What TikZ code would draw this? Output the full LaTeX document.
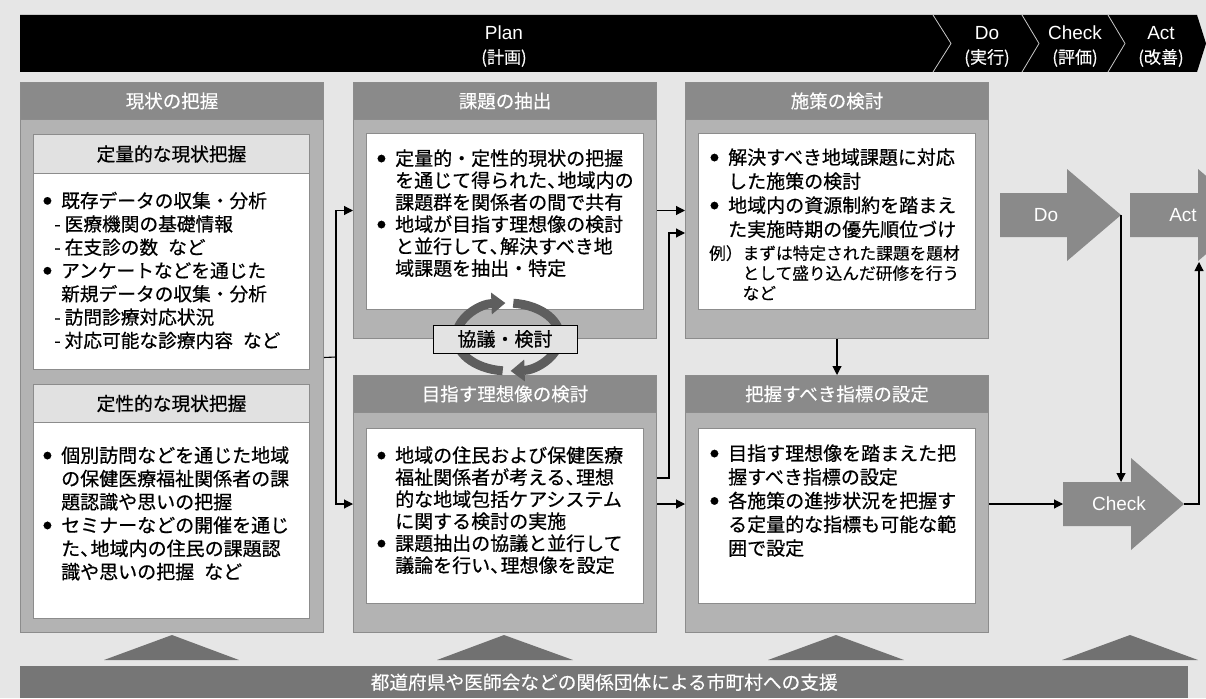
\documentclass[tikz,border=0pt]{standalone}
\usepackage{fontspec}
\setmainfont{Noto Sans CJK JP}
\newfontfamily\jpb{Noto Sans CJK JP}[FakeBold=0.6]
\newfontfamily\jph{Noto Sans CJK JP}[FakeBold=0.25]
\newfontfamily\lat{Liberation Sans}
\usetikzlibrary{arrows.meta}
\definecolor{bg}{HTML}{E6E6E6}
\definecolor{outergray}{HTML}{B3B3B3}
\definecolor{hdrgray}{HTML}{8A8A8A}
\definecolor{subgray}{HTML}{E1E1E1}
\definecolor{bordergray}{HTML}{8C8C8C}
\definecolor{bargray}{HTML}{767676}
\definecolor{trigray}{HTML}{717171}
\definecolor{pdcagray}{HTML}{8A8A8A}
\definecolor{ringgray}{HTML}{5E5E5E}
\definecolor{lablgray}{HTML}{E3E3E3}
\definecolor{sepgray}{HTML}{C8C8C8}
\newcommand{\bul}{\makebox[18pt][l]{\raisebox{3.6pt}{\fontsize{8.5}{9}\selectfont ●}}}
\newcommand{\ind}{\hspace*{18pt}}
\newcommand{\dsh}{\hspace*{11pt}-\hspace{4pt}}
\newcommand{\tc}{\makebox[0.55em][l]{、}}
\newcommand{\fr}{\rule{0pt}{17pt}}
\newcommand{\pj}[1]{\makebox[10pt][r]{(}#1\makebox[10pt][l]{)}}
\begin{document}
\begin{tikzpicture}[x=1pt,y=-1pt,
  box/.style={draw=bordergray, line width=1pt, inner sep=0pt, anchor=north west},
  outerbox/.style={box, fill=outergray},
  hdrbox/.style={box, fill=hdrgray, text=white, font=\jph\fontsize{18.5}{22}\selectfont},
  subhdr/.style={box, fill=subgray, font=\jpb\fontsize{18.7}{22}\selectfont},
  bodybox/.style={box, fill=white},
  txt/.style={anchor=north west, inner sep=0pt, align=left},
  conn/.style={line width=1.1pt, -{Triangle[length=9pt,width=9pt]}},
  plainline/.style={line width=1.1pt},
  pdca/.style={fill=pdcagray},
  pdcatxt/.style={inner sep=0pt, text=white, font=\lat\fontsize{19}{22}\selectfont},
  toplat/.style={inner sep=0pt, text=white, font=\lat\fontsize{19}{22}\selectfont},
  topjp/.style={inner sep=0pt, text=white, font=\jph\fontsize{17}{20}\selectfont},
  ring/.style={draw=ringgray, line width=9pt, -{Triangle[length=14pt,width=21pt]}},
  sepline/.style={draw=sepgray, line width=0.8pt},
  tri/.style={fill=trigray}
]
\useasboundingbox (0,0) rectangle (1206,698);
\fill[bg] (0,0) rectangle (1206,698);
\begin{scope}
\clip (0,0) rectangle (1206,698);

% top bar
\fill[black] (20,15) -- (1197,15) -- (1206,43.5) -- (1197,72) -- (20,72) -- cycle;
\draw[sepline] (933,15) -- (951,43.5) -- (933,72);
\draw[sepline] (1022,15) -- (1039,43.5) -- (1022,72);
\draw[sepline] (1108,15) -- (1125,43.5) -- (1108,72);
\node[toplat] (plan) at (504,33) {Plan};
\node[topjp] (plan2) at (504,58) {\pj{計画}};
\node[toplat] (doh) at (987,33) {Do};
\node[topjp] (doh2) at (987,58) {\pj{実行}};
\node[toplat] (chh) at (1075,33) {Check};
\node[topjp] (chh2) at (1075,58) {\pj{評価}};
\node[toplat] (ach) at (1161,33) {Act};
\node[topjp] (ach2) at (1161,58) {\pj{改善}};

% column 1
\node[outerbox, minimum width=303, minimum height=550] (c1) at (20,82) {};
\node[hdrbox, minimum width=303, minimum height=37] (h1) at (20,82) {現状の把握};
\node[subhdr, minimum width=276, minimum height=39] (s1) at (33,134) {定量的な現状把握};
\node[bodybox, minimum width=276, minimum height=196] (b1) at (33,173) {};
\node[subhdr, minimum width=276, minimum height=38] (s2) at (33,384) {定性的な現状把握};
\node[bodybox, minimum width=276, minimum height=196] (b2) at (33,422) {};
\node[txt, font=\jpb\fontsize{18.7}{23.3}\selectfont] (t1) at (43,190.5) {\fr\bul 既存データの収集・分析\\
\dsh 医療機関の基礎情報\\
\dsh 在支診の数\hspace{10pt}など\\
\bul アンケートなどを通じた\\
\ind 新規データの収集・分析\\
\dsh 訪問診療対応状況\\
\dsh 対応可能な診療内容\hspace{10pt}など};
\node[txt, font=\jpb\fontsize{19}{23.3}\selectfont] (t2) at (43,445.2) {\fr\bul 個別訪問などを通じた地域\\
\ind の保健医療福祉関係者の課\\
\ind 題認識や思いの把握\\
\bul セミナーなどの開催を通じ\\
\ind た\tc 地域内の住民の課題認\\
\ind 識や思いの把握\hspace{10pt}など};

% column 2
\node[outerbox, minimum width=303, minimum height=256] (c2a) at (353,82) {};
\node[hdrbox, minimum width=303, minimum height=37] (h2a) at (353,82) {課題の抽出};
\node[bodybox, minimum width=277, minimum height=176] (b3) at (366,133) {};
\node[txt, font=\jpb\fontsize{19}{22}\selectfont] (t3) at (377,148.2) {\fr\bul 定量的・定性的現状の把握\\
\ind を通じて得られた\tc 地域内の\\
\ind 課題群を関係者の間で共有\\
\bul 地域が目指す理想像の検討\\
\ind と並行して\tc 解決すべき地\\
\ind 域課題を抽出・特定};
\node[outerbox, minimum width=303, minimum height=257] (c2b) at (353,375) {};
\node[hdrbox, minimum width=303, minimum height=37] (h2b) at (353,375) {目指す理想像の検討};
\node[bodybox, minimum width=277, minimum height=175] (b4) at (366,428) {};
\node[txt, font=\jpb\fontsize{19}{22}\selectfont] (t4) at (377,445.2) {\fr\bul 地域の住民および保健医療\\
\ind 福祉関係者が考える\tc 理想\\
\ind 的な地域包括ケアシステム\\
\ind に関する検討の実施\\
\bul 課題抽出の協議と並行して\\
\ind 議論を行い\tc 理想像を設定};

% column 3
\node[outerbox, minimum width=303, minimum height=256] (c3a) at (685,82) {};
\node[hdrbox, minimum width=303, minimum height=37] (h3a) at (685,82) {施策の検討};
\node[bodybox, minimum width=277, minimum height=176] (b5) at (698,133) {};
\node[txt, font=\jpb\fontsize{19}{24}\selectfont] (t5) at (710,147.2) {\fr\bul 解決すべき地域課題に対応\\
\ind した施策の検討\\
\bul 地域内の資源制約を踏まえ\\
\ind た実施時期の優先順位づけ};
\node[txt, font=\jph\fontsize{16.7}{20}\selectfont] (t6) at (709,244.3) {\rule{0pt}{15pt}例）まずは特定された課題を題材\\
\hspace*{33.4pt}として盛り込んだ研修を行う\\
\hspace*{33.4pt}など};
\node[outerbox, minimum width=303, minimum height=257] (c3b) at (685,375) {};
\node[hdrbox, minimum width=303, minimum height=37] (h3b) at (685,375) {把握すべき指標の設定};
\node[bodybox, minimum width=277, minimum height=175] (b6) at (698,428) {};
\node[txt, font=\jpb\fontsize{19}{23.7}\selectfont] (t7) at (710,443.2) {\fr\bul 目指す理想像を踏まえた把\\
\ind 握すべき指標の設定\\
\bul 各施策の進捗状況を把握す\\
\ind る定量的な指標も可能な範\\
\ind 囲で設定};

% discussion ring
\draw[ring] (502.7,370.8) arc[start angle=264, end angle=93, x radius=52pt, y radius=34pt];
\draw[ring] (513.3,303.2) arc[start angle=84, end angle=-87, x radius=52pt, y radius=34pt];
\node[draw=black, line width=1pt, fill=lablgray, minimum width=144, minimum height=28, inner sep=0pt, font=\jpb\fontsize{19}{22}\selectfont] (kyogi) at (505,339) {協議・検討};

% PDCA arrows
\fill[pdca] (1000,193) -- (1067,193) -- (1067,169) -- (1121,215) -- (1067,261) -- (1067,237) -- (1000,237) -- cycle;
\fill[pdca] (1130,193) -- (1198,193) -- (1198,169) -- (1252,215) -- (1198,261) -- (1198,237) -- (1130,237) -- cycle;
\fill[pdca] (1063,482) -- (1131,482) -- (1131,458) -- (1184,504) -- (1131,550) -- (1131,526) -- (1063,526) -- cycle;
\node[pdcatxt] (dotxt) at (1046,215) {Do};
\node[pdcatxt] (acttxt) at (1183,215) {Act};
\node[pdcatxt] (chtxt) at (1119,504) {Check};
\coordinate (dotip) at (1121,215);
\coordinate (chtop) at (1121,482);
\coordinate (chtail) at (1063,504);
\coordinate (chtip) at (1184,504);
\coordinate (k1) at (1199,504);
\coordinate (actbot) at (1199,262);

% connectors
\coordinate (j1) at (336,357);
\draw[plainline] (c1.east) -- (j1);
\draw[conn] (j1) |- (c2a.west);
\draw[conn] (j1) |- (c2b.west);
\draw[conn] (c2a.east) -- (c3a.west);
\coordinate (m1) at (669,478);
\coordinate (m2) at (669,233);
\draw[conn] (c2b.east |- m1) -- (m1) -- (m2) -- (c3a.west |- m2);
\draw[conn] (c2b.east) -- (c3b.west);
\draw[conn] (c3a.south) -- (c3b.north);
\draw[conn] (c3b.east) -- (chtail);
\draw[conn] (dotip) -- (chtop);
\draw[conn] (chtip) -- (k1) -- (actbot);

% support triangles and bar
\fill[tri] (104,660) -- (239,660) -- (172,635) -- cycle;
\fill[tri] (437,660) -- (573,660) -- (504,635) -- cycle;
\fill[tri] (768,660) -- (904,660) -- (836,635) -- cycle;
\fill[tri] (1062,660) -- (1198,660) -- (1130,635) -- cycle;
\node[fill=bargray, anchor=north west, minimum width=1168, minimum height=32, inner sep=0pt, text=white, font=\jph\fontsize{18.7}{22}\selectfont] (support) at (20,666) {都道府県や医師会などの関係団体による市町村への支援};
\end{scope}
\end{tikzpicture}
\end{document}
